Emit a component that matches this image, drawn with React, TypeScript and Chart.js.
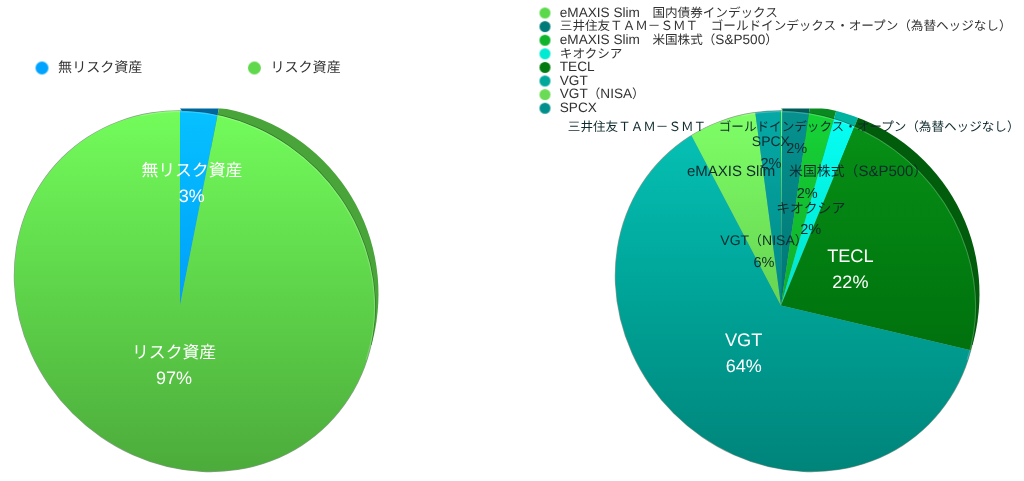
import React, { useEffect, useRef } from "react";
import { Chart, registerables } from "chart.js";

Chart.register(...registerables);

// Japanese glyphs run a little narrower than the Latin text beside them in the reference.
const FONT_FACE = `@font-face{font-family:"CJKAdj";src:local("Noto Sans CJK JP"),local("Noto Sans CJK JP Regular"),local("NotoSansCJKjp-Regular");size-adjust:92.5%;}`;
const FONT = '"Liberation Sans","CJKAdj","Noto Sans CJK JP",sans-serif';

// ---- data ----
const riskCategories = ["無リスク資産", "リスク資産"];
const riskValues = [3.1, 96.9];
const riskColors = ["#00A4FF", "#60D84B"];

const holdingCategories = [
  "eMAXIS Slim　国内債券インデックス",
  "三井住友ＴＡＭ－ＳＭＴ　ゴールドインデックス・オープン（為替ヘッジなし）",
  "eMAXIS Slim　米国株式（S&P500）",
  "キオクシア",
  "TECL",
  "VGT",
  "VGT（NISA）",
  "SPCX",
];
const holdingValues = [0.1, 2.2, 2.1, 1.8, 22.49, 63.6, 5.6, 2.11];
const holdingColors = ["#5BD94B", "#007A78", "#0FB42B", "#00EBD2", "#017B0F", "#00A79B", "#6ADB55", "#008F8C"];

// ---- layout of labels (distance from the pie's apex along each slice's middle) ----
const riskLabelRadius = [122, 61];
const riskLabelSize = [18.2, 18.2];
const riskLabelColor = ["#ffffff", "#ffffff"];
const holdingLabelRadius = [0, 168, 125, 91, 78, 61, 56, 153];
const holdingLabelSize = [0, 13.6, 15, 15, 18.2, 18.2, 14, 14];
const holdingLabelColor = ["#0f2a2e", "#0f2a2e", "#0f2a2e", "#0f2a2e", "#ffffff", "#ffffff", "#0f2a2e", "#0f2a2e"];

function rgb(hex: string, k: number) {
  const n = parseInt(hex.slice(1), 16);
  const f = (v: number) => Math.max(0, Math.min(255, Math.round(v * k)));
  return `rgb(${f((n >> 16) & 255)},${f((n >> 8) & 255)},${f(n & 255)})`;
}

function liftedTop(hex: string) {
  const n = parseInt(hex.slice(1), 16);
  const f = (v: number) => Math.min(255, Math.round(v * 1.14 + 6));
  return `rgb(${f((n >> 16) & 255)},${f((n >> 8) & 255)},${f(n & 255)})`;
}

function dot(color: string, size: number) {
  const c = document.createElement("canvas");
  c.width = size + 2;
  c.height = size + 2;
  const x = c.getContext("2d")!;
  x.fillStyle = color;
  x.beginPath();
  x.arc(size / 2 + 1, size / 2 + 1, size / 2, 0, Math.PI * 2);
  x.fill();
  return c;
}

type PieConfig = {
  canvas: HTMLCanvasElement;
  dx: number; // geometry shift of this canvas relative to the left pie
  labels: string[];
  values: number[];
  colors: string[];
  labelRadius: number[];
  labelSize: number[];
  labelColor: string[];
  legendLeft: number;
  legendTop: number;
  legend: any;
  dotSize: number;
};

function makePie(cfg: PieConfig) {
  const { canvas, dx } = cfg;
  const apexX = 180 + dx;
  const apexY = 305.5;
  const faceX = 194.8 + dx;
  const faceY = 291.2;
  const faceA = 188;
  const faceB = 172.5;
  const rot = Math.PI / 4;
  const wedge = 240;

  const g = canvas.getContext("2d")!;
  const fills = cfg.colors.map((c) => {
    const gr = g.createLinearGradient(0, 110, 0, 472);
    gr.addColorStop(0, liftedTop(c));
    gr.addColorStop(0.5, rgb(c, 0.98));
    gr.addColorStop(1, rgb(c, 0.79));
    return gr;
  });

  const perspective = {
    id: "perspective",
    beforeDraw(chart: any) {
      chart.ctx.textRendering = "geometricPrecision";
    },
    afterLayout(chart: any) {
      chart.chartArea = {
        left: apexX - wedge,
        right: apexX + wedge,
        top: apexY - wedge,
        bottom: apexY + wedge,
        width: wedge * 2,
        height: wedge * 2,
      };
      const lg = chart.legend;
      lg.left = cfg.legendLeft;
      lg.right = chart.width;
      lg.top = cfg.legendTop;
      lg.bottom = chart.height;
      lg.width = lg.right - lg.left;
      lg.height = lg.bottom - lg.top;
    },
    beforeDatasetsDraw(chart: any) {
      const ctx = chart.ctx;
      const arcs = chart.getDatasetMeta(0).data;
      // raised edge behind the face
      ctx.save();
      ctx.beginPath();
      ctx.moveTo(180 + dx, 108.5);
      ctx.lineTo(440 + dx, 108.5);
      ctx.lineTo(440 + dx, 345);
      ctx.lineTo(365 + dx, 345);
      ctx.closePath();
      ctx.clip();
      ctx.beginPath();
      ctx.arc(190 + dx, 294, 188.5, 0, Math.PI * 2);
      ctx.clip();
      arcs.forEach((a: any, i: number) => {
        ctx.fillStyle = rgb(cfg.colors[i], i === 0 && dx === 0 ? 0.62 : 0.76);
        ctx.beginPath();
        ctx.moveTo(a.x, a.y);
        ctx.arc(a.x, a.y, 400, a.startAngle, a.endAngle);
        ctx.closePath();
        ctx.fill();
      });
      ctx.restore();
      // soft dark line round the face
      ctx.save();
      ctx.beginPath();
      ctx.ellipse(faceX, faceY, faceA + 0.6, faceB + 0.6, rot, 0, Math.PI * 2);
      ctx.fillStyle = "rgba(30,60,35,0.5)";
      ctx.fill();
      ctx.restore();
      ctx.save();
      ctx.beginPath();
      ctx.ellipse(faceX, faceY, faceA, faceB, rot, 0, Math.PI * 2);
      ctx.clip();
    },
    afterDatasetsDraw(chart: any) {
      const ctx = chart.ctx;
      ctx.restore();
      // light rim on the raised side
      ctx.save();
      ctx.strokeStyle = "rgba(255,255,255,0.22)";
      ctx.lineWidth = 1;
      ctx.beginPath();
      ctx.ellipse(faceX, faceY, faceA - 0.8, faceB - 0.8, rot, (-150 * Math.PI) / 180, (-25 * Math.PI) / 180);
      ctx.stroke();
      ctx.restore();
      // value labels
      const arcs = chart.getDatasetMeta(0).data;
      const total = cfg.values.reduce((s, v) => s + v, 0);
      ctx.save();
      ctx.textAlign = "center";
      ctx.textBaseline = "middle";
      arcs.forEach((a: any, i: number) => {
        const pct = Math.round((cfg.values[i] / total) * 100);
        if (pct < 1) return;
        const mid = (a.startAngle + a.endAngle) / 2;
        const r = cfg.labelRadius[i];
        const x = a.x + Math.cos(mid) * r;
        const y = a.y + Math.sin(mid) * r;
        const size = cfg.labelSize[i];
        const gap = size >= 16 ? 13 : 11;
        ctx.fillStyle = cfg.labelColor[i];
        ctx.font = `${size}px ${FONT}`;
        ctx.fillText(cfg.labels[i], x, y - gap);
        ctx.font = `${size >= 16 ? 18 : 14.5}px ${FONT}`;
        ctx.fillText(`${pct}%`, x + (size < 14 ? 3 : 0), y + gap);
      });
      ctx.restore();
    },
  };

  return new Chart(canvas, {
    type: "pie",
    data: {
      labels: cfg.labels,
      datasets: [
        {
          data: cfg.values,
          backgroundColor: fills,
          borderWidth: 0,
          clip: false,
          radius: wedge,
        } as any,
      ],
    },
    options: {
      responsive: false,
      animation: false,
      layout: { padding: 0 },
      plugins: {
        tooltip: { enabled: false },
        legend: {
          ...cfg.legend,
          align: "start",
          labels: {
            ...cfg.legend.labels,
            usePointStyle: true,
            color: "#333333",
            generateLabels: () =>
              cfg.labels.map((text, i) => ({
                text,
                index: i,
                hidden: false,
                fontColor: "#333333",
                fillStyle: cfg.colors[i],
                strokeStyle: cfg.colors[i],
                lineWidth: 0,
                pointStyle: dot(cfg.colors[i], cfg.dotSize),
              })),
          },
        },
      },
    } as any,
    plugins: [perspective as any],
  });
}

export default function App() {
  const leftRef = useRef<HTMLCanvasElement>(null);
  const rightRef = useRef<HTMLCanvasElement>(null);

  useEffect(() => {
    let a: Chart | undefined;
    let b: Chart | undefined;
    let dead = false;
    const build = () => {
      if (dead) return;
      a = makePie({
        canvas: leftRef.current!,
        dx: 0,
        labels: riskCategories,
        values: riskValues,
        colors: riskColors,
        labelRadius: riskLabelRadius,
        labelSize: riskLabelSize,
        labelColor: riskLabelColor,
        legendLeft: -70,
        legendTop: -43.1,
        dotSize: 13,
        legend: {
          position: "top",
          labels: { font: { family: FONT, size: 15.2 }, padding: 103.5, pointStyleWidth: 17 },
        },
      });
      b = makePie({
        canvas: rightRef.current!,
        dx: 89,
        labels: holdingCategories,
        values: holdingValues,
        colors: holdingColors,
        labelRadius: holdingLabelRadius,
        labelSize: holdingLabelSize,
        labelColor: holdingLabelColor,
        legendLeft: 25,
        legendTop: 6.2,
        dotSize: 11,
        legend: {
          position: "left",
          labels: { font: { family: FONT, size: 13.6, lineHeight: 1 }, padding: 0, pointStyleWidth: 16 },
        },
      });
    };
    const fonts = (document as any).fonts;
    fonts.load('14px "CJKAdj"', "国").then(build, build);
    return () => {
      dead = true;
      a?.destroy();
      b?.destroy();
    };
  }, []);

  return (
    <div style={{ position: "absolute", left: 0, top: 0, width: 1024, height: 481, background: "#fff", overflow: "hidden" }}>
      <style>{FONT_FACE}</style>
      <canvas ref={leftRef} width={600} height={481} style={{ position: "absolute", left: 0, top: 0, display: "block" }} />
      <canvas ref={rightRef} width={512} height={481} style={{ position: "absolute", left: 512, top: 0, display: "block" }} />
    </div>
  );
}
